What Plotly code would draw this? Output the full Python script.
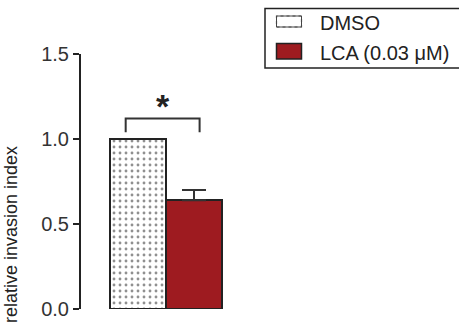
import plotly.graph_objects as go

# ---- data ----
categories = ["DMSO", "LCA (0.03 μM)"]
values = [1.0, 0.64]
errors_up = [0.0, 0.06]
y_ticks = [0.0, 0.5, 1.0, 1.5]
y_title = "relative invasion index"
sig_label = "*"

DARK = "#222222"
RED = "#9e1b20"
FONT = "Liberation Sans, Arial, sans-serif"

W, H = 459, 327
PLOT_L, PLOT_T, PLOT_B, PLOT_W = 81, 54, 309, 200
PLOT_H = PLOT_B - PLOT_T


def px(xw):
    return (xw - PLOT_L) / PLOT_W


def py(yw):
    return (PLOT_B - yw) / PLOT_H


fig = go.Figure()

# DMSO bar (dotted pattern)
fig.add_trace(go.Bar(
    x=[categories[0]], y=[values[0]], width=1.0,
    marker=dict(color="white", line=dict(color=DARK, width=2),
                pattern=dict(shape=".", fgcolor="#222222", bgcolor="white",
                             size=6, solidity=0.18)),
    showlegend=False,
))
# LCA bar with upward error bar
fig.add_trace(go.Bar(
    x=[categories[1]], y=[values[1]], width=1.0,
    marker=dict(color=RED, line=dict(color=DARK, width=2)),
    error_y=dict(type="data", array=[errors_up[1]], arrayminus=[0],
                 symmetric=False, color="#333333", thickness=2, width=12),
    showlegend=False,
))

# significance bracket
bx0, bx1 = -0.22, 1.1
by0, by1 = values[0] + 0.04, values[0] + 0.12
fig.add_shape(type="path",
              path=f"M {bx0},{by0} L {bx0},{by1} L {bx1},{by1} L {bx1},{by0}",
              xref="x", yref="y", line=dict(color="#333333", width=2))
fig.add_annotation(x=(bx0 + bx1) / 2, y=by1 + 0.06, xref="x", yref="y",
                   text=f"<b>{sig_label}</b>", showarrow=False,
                   font=dict(size=34, color=DARK, family=FONT),
                   yanchor="middle", yshift=2)

# y-axis title
fig.add_annotation(x=px(11), y=py(235), xref="paper", yref="paper",
                   text=y_title, showarrow=False, textangle=-90,
                   xanchor="center", yanchor="middle",
                   font=dict(size=18, color=DARK, family=FONT))

# ---- manual legend ----
fig.add_shape(type="rect", xref="paper", yref="paper",
              x0=px(265), x1=px(475), y0=py(68), y1=py(8.5),
              line=dict(color=DARK, width=1.5), fillcolor="rgba(0,0,0,0)")
fig.add_shape(type="rect", xref="paper", yref="paper",
              x0=px(276.5), x1=px(301.5), y0=py(27), y1=py(16),
              line=dict(color="#555555", width=1.2, dash="dot"), fillcolor="white")
fig.add_shape(type="rect", xref="paper", yref="paper",
              x0=px(276.5), x1=px(301.5), y0=py(27), y1=py(16),
              line=dict(color="#444444", width=1), fillcolor="rgba(0,0,0,0)")
fig.add_shape(type="rect", xref="paper", yref="paper",
              x0=px(276.5), x1=px(301.5), y0=py(59), y1=py(43.5),
              line=dict(color=DARK, width=1.5), fillcolor=RED)
fig.add_annotation(x=px(318), y=py(22.5), xref="paper", yref="paper",
                   text=categories[0], showarrow=False, xanchor="left",
                   yanchor="middle", font=dict(size=20, color=DARK, family=FONT))
fig.add_annotation(x=px(318), y=py(53), xref="paper", yref="paper",
                   text=categories[1], showarrow=False, xanchor="left",
                   yanchor="middle", font=dict(size=20, color=DARK, family=FONT))

px_per_cat = 56
center0 = 138
x_start = -(center0 - PLOT_L) / px_per_cat
x_end = x_start + PLOT_W / px_per_cat

fig.update_layout(
    width=W, height=H,
    margin=dict(l=PLOT_L, r=W - PLOT_L - PLOT_W, t=PLOT_T, b=H - PLOT_B,
                autoexpand=False),
    paper_bgcolor="white", plot_bgcolor="white",
    barmode="overlay", bargap=0,
    font=dict(family=FONT, color=DARK),
    xaxis=dict(visible=False, range=[x_start, x_end],
               categoryorder="array", categoryarray=categories),
    yaxis=dict(range=[0, 1.5], tickvals=y_ticks, tickformat=".1f",
               showline=True, linecolor=DARK, linewidth=2,
               ticks="outside", ticklen=6, tickwidth=2, tickcolor=DARK,
               showgrid=False, zeroline=False,
               tickfont=dict(size=20, color="#333333", family=FONT)),
)

fig.write_html(
    "out.html",
    config={"displayModeBar": False},
    post_script="document.body.style.margin='0';document.body.style.overflow='hidden';",
)
